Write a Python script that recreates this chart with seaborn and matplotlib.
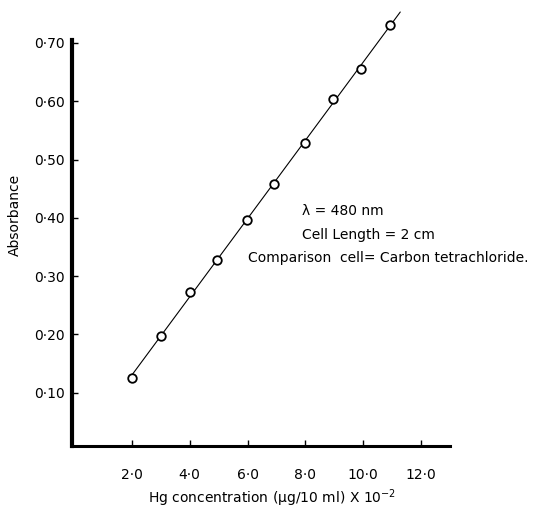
import numpy as np
import pandas as pd
import matplotlib
matplotlib.use("Agg")
import matplotlib.pyplot as plt
import seaborn as sns

# Data
hg_conc = [2.0, 3.0, 4.0, 4.95, 5.97, 6.93, 7.97, 8.97, 9.92, 10.93]
absorbance = [0.125, 0.198, 0.272, 0.328, 0.397, 0.458, 0.529, 0.604, 0.656, 0.731]
line_x = [2.0, 11.28]

x_ticks = [2.0, 4.0, 6.0, 8.0, 10.0, 12.0]
x_ticklabels = ["2·0", "4·0", "6·0", "8·0", "10·0", "12·0"]
y_ticks = [0.10, 0.20, 0.30, 0.40, 0.50, 0.60, 0.70]
y_ticklabels = ["0·10", "0·20", "0·30", "0·40", "0·50", "0·60", "0·70"]

annot_lines = ["λ = 480 nm", "Cell Length = 2 cm", "Comparison  cell= Carbon tetrachloride."]

sns.set_style("ticks")
plt.rcParams["font.family"] = ["DejaVu Sans"]
plt.rcParams["text.color"] = "black"
plt.rcParams["axes.labelcolor"] = "black"

fig = plt.figure(figsize=(5.6, 5.12), dpi=100)
ax = fig.add_axes([72 / 560, 1 - 446 / 512, (450 - 72) / 560, (446 - 40) / 512])

df = pd.DataFrame({"x": hg_conc, "y": absorbance})
slope, intercept = np.polyfit(hg_conc, absorbance, 1)
lx = np.array(line_x)
ldf = pd.DataFrame({"x": lx, "y": slope * lx + intercept})

sns.lineplot(data=ldf, x="x", y="y", ax=ax, color="black", linewidth=0.8,
             clip_on=False, zorder=2)
sns.scatterplot(data=df, x="x", y="y", ax=ax, marker="o", s=38,
                facecolor="white", edgecolor="black", linewidth=1.3,
                zorder=3, clip_on=False)

ax.set_xlim(-0.07, 13.0)
ax.set_ylim(0.0086, 0.705)
ax.set_xticks(x_ticks)
ax.set_xticklabels(x_ticklabels)
ax.set_yticks(y_ticks)
ax.set_yticklabels(y_ticklabels)
ax.tick_params(axis="both", direction="in", length=4, width=1, labelsize=10,
               colors="black")
ax.tick_params(axis="x", pad=16)
ax.tick_params(axis="y", pad=5)

for s in ["top", "right"]:
    ax.spines[s].set_visible(False)
ax.spines["left"].set_linewidth(3.0)
ax.spines["bottom"].set_linewidth(2.2)
ax.spines["left"].set_color("black")
ax.spines["bottom"].set_color("black")

ax.set_xlabel("Hg concentration (μg/10 ml) X 10$^{-2}$", fontsize=10, color="black")
ax.set_ylabel("Absorbance", fontsize=10, color="black")
ax.xaxis.set_label_coords((272 - 72) / 378, -(487 - 446) / 406)
ax.yaxis.set_label_coords(-(50) / 378, (446 - 215) / 406)

ax.text(302 / 560, 1 - 211 / 512, annot_lines[0], transform=fig.transFigure,
        fontsize=10, va="center", ha="left", color="black")
ax.text(302 / 560, 1 - 235 / 512, annot_lines[1], transform=fig.transFigure,
        fontsize=10, va="center", ha="left", color="black")
ax.text(248 / 560, 1 - 258 / 512, annot_lines[2], transform=fig.transFigure,
        fontsize=10, va="center", ha="left", color="black")

fig.savefig("out.png", dpi=100)
